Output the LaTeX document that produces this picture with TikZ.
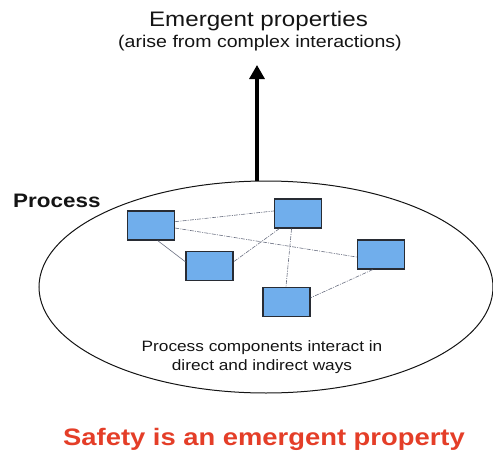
\documentclass[tikz,border=0pt]{standalone}
\usepackage{fontspec}
\setmainfont{Liberation Sans}
\usetikzlibrary{arrows.meta,shapes.geometric}
\definecolor{boxblue}{RGB}{112,174,236}
\definecolor{boxedge}{RGB}{40,44,52}
\definecolor{linkgray}{RGB}{105,110,128}
\definecolor{textdark}{RGB}{20,20,20}
\definecolor{safetyred}{RGB}{228,62,40}
\begin{document}
\begin{tikzpicture}[x=1pt,y=-1pt,
  component/.style={draw=boxedge,line width=1.3pt,fill=boxblue,minimum width=47pt,minimum height=29pt,inner sep=0pt},
  link/.style={draw=linkgray,line width=0.6pt,dash pattern=on 4pt off 1.2pt on 1pt off 1.2pt},
  solidlink/.style={draw=linkgray,line width=0.6pt},
  wide/.style={xscale=1.15,text=textdark,inner sep=0pt}]
\useasboundingbox (0,0) rectangle (493,455);

% the process boundary
\node (proc) [draw=textdark,line width=1pt,ellipse,minimum width=454pt,minimum height=212pt,inner sep=0pt] at (266,287) {};

% process components
\node (b1) [component] at (151,225.5) {};
\node (b2) [component] at (298,213.5) {};
\node (b3) [component] at (209.5,266) {};
\node (b4) [component] at (381,254.5) {};
\node (b5) [component] at (286.5,302) {};

% interactions between components
\draw[link] (b1.9) -- (b2.174);
\draw[link] (b1.-6) -- (b4.186);
\draw[solidlink] (b1.-66) -- (b3.170);
\draw[link] (b2.219) -- (b3.10);
\draw[link] (b2.247) -- (b5.92);
\draw[link] (b4.241) -- (b5.10);

% labels
\node (title) [wide,anchor=base,font=\fontsize{21}{25}\selectfont] at (258.5,27) {Emergent properties};
\node (subtitle) [wide,anchor=base,font=\fontsize{17}{20}\selectfont] at (260,47) {(arise from complex interactions)};
\node (proclabel) [wide,anchor=base west,font=\bfseries\fontsize{19.5}{23}\selectfont] at (13,207) {Process};
\node (note1) [wide,anchor=base,font=\fontsize{15}{18}\selectfont] at (262,351) {Process components interact in};
\node (note2) [wide,anchor=base,font=\fontsize{15}{18}\selectfont] at (262,370) {direct and indirect ways};
\node (safety) [wide,anchor=base,text=safetyred,font=\bfseries\fontsize{23.8}{28}\selectfont] at (264,445) {Safety is an emergent property};

% emergence arrow
\coordinate (base) at ([xshift=-9pt]proc.north);
\coordinate (tip) at (257,65);
\draw[line width=3.2pt,-{Triangle[width=15pt,length=14pt]}] (base) -- (tip);
\end{tikzpicture}
\end{document}
